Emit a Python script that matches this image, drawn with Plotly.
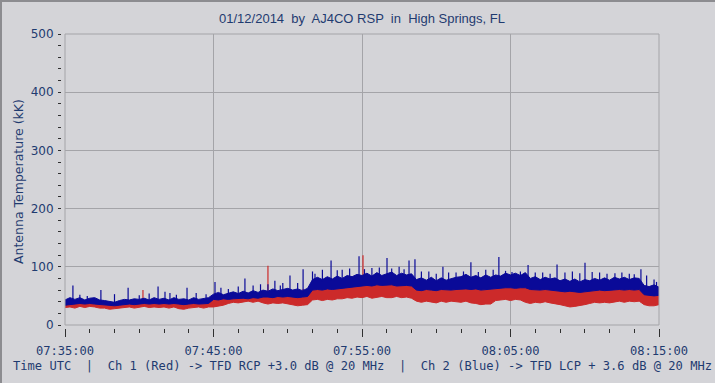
import numpy as np
import pandas as pd
import plotly.graph_objects as go

# ---------------- data ----------------
start = pd.Timestamp("2014-01-12 07:35:00")
sample_s = np.arange(121) * 20          # one reading every 20 s, 07:35:00 .. 08:15:00

blue_hi = [43, 47, 44, 47, 43, 46, 47, 43, 42, 40,
           39, 42, 44, 43, 45, 44, 46, 43, 47, 44,
           46, 43, 47, 44, 45, 43, 47, 44, 45, 47,
           53, 56, 52, 55, 57, 54, 58, 55, 59, 56,
           60, 58, 62, 59, 61, 63, 60, 62, 59, 63,
           78, 82, 78, 83, 79, 84, 80, 85, 83, 87,
           85, 89, 84, 90, 85, 88, 91, 85, 89, 86,
           88, 78, 81, 77, 82, 76, 81, 77, 80, 82,
           83, 87, 82, 85, 81, 86, 82, 86, 84, 89,
           86, 89, 85, 90, 80, 83, 78, 82, 79, 81,
           76, 79, 75, 79, 74, 78, 76, 80, 77, 81,
           77, 82, 79, 82, 78, 81, 80, 68, 66, 69,
           65]
blue_lo = [34, 35, 36, 37, 36, 37, 36, 35, 34, 33,
           33, 34, 35, 36, 35, 36, 37, 36, 37, 36,
           37, 36, 37, 36, 35, 36, 37, 36, 36, 37,
           44, 43, 45, 44, 45, 46, 46, 45, 47, 46,
           48, 48, 47, 49, 48, 49, 48, 47, 48, 49,
           60, 61, 60, 62, 61, 62, 63, 64, 65, 66,
           67, 68, 67, 69, 68, 68, 69, 67, 68, 68,
           67, 60, 59, 61, 60, 59, 61, 60, 60, 61,
           62, 62, 61, 62, 60, 61, 61, 62, 63, 64,
           64, 63, 64, 64, 61, 60, 60, 61, 60, 59,
           58, 57, 58, 57, 56, 57, 58, 58, 60, 59,
           60, 60, 61, 60, 61, 60, 61, 52, 51, 50,
           51]
red_hi = [37, 38, 39, 39, 38, 39, 38, 37, 36, 35,
          35, 36, 37, 38, 38, 39, 39, 38, 39, 38,
          39, 38, 39, 38, 37, 38, 39, 38, 38, 39,
          46, 46, 47, 47, 48, 49, 49, 48, 50, 49,
          51, 51, 50, 52, 51, 52, 51, 50, 51, 52,
          63, 64, 63, 64, 64, 65, 66, 67, 68, 69,
          70, 70, 69, 71, 70, 71, 71, 70, 70, 71,
          69, 62, 61, 63, 62, 61, 63, 62, 62, 63,
          64, 63, 63, 62, 61, 62, 62, 63, 64, 65,
          65, 64, 65, 64, 62, 61, 61, 62, 61, 60,
          59, 58, 59, 58, 57, 58, 59, 59, 61, 60,
          61, 61, 62, 61, 62, 61, 62, 53, 52, 52,
          53]
red_lo = [30, 31, 29, 32, 30, 32, 31, 29, 29, 27,
          28, 29, 30, 31, 29, 31, 32, 30, 31, 30,
          31, 29, 31, 28, 27, 29, 30, 31, 29, 31,
          31, 32, 34, 37, 39, 38, 40, 41, 39, 41,
          38, 36, 38, 37, 38, 36, 35, 33, 34, 35,
          43, 44, 42, 44, 43, 45, 45, 47, 46, 48,
          47, 49, 46, 48, 49, 47, 47, 49, 47, 48,
          46, 41, 39, 41, 40, 38, 41, 39, 41, 40,
          39, 41, 38, 37, 35, 36, 36, 42, 43, 44,
          42, 44, 43, 39, 37, 39, 38, 40, 38, 37,
          35, 33, 31, 32, 33, 35, 37, 39, 38, 39,
          38, 40, 41, 39, 41, 40, 41, 35, 33, 33,
          35]

blue_spike_s = [32, 145, 255, 376, 404, 424, 493, 606, 660, 727, 790, 848, 880,
                909, 962, 1010, 1075, 1120, 1188, 1240, 1301, 1350, 1390, 1414,
                1470, 1527, 1580, 1640, 1700, 1753, 1806, 1871, 1930, 1988, 2050,
                2101, 2160, 2222, 2280, 2327, 2380]
blue_spike_peak = [68, 60, 64, 66, 57, 55, 64, 74, 62, 80, 70, 76, 72,
                   85, 96, 88, 111, 95, 118, 98, 115, 100, 111, 113,
                   92, 100, 90, 108, 95, 117, 91, 103, 90, 104, 92,
                   107, 90, 89, 88, 96, 78]
blue_small_spike_s = [60, 90, 200, 300, 340, 450, 530, 570, 630, 700, 760, 820,
                      870, 940, 1000, 1040, 1100, 1150, 1210, 1270, 1320, 1370,
                      1440, 1500, 1550, 1610, 1670, 1730, 1780, 1840, 1900, 1960,
                      2020, 2080, 2130, 2190, 2250, 2300, 2350, 2390]
blue_small_spike_peak = [52, 50, 53, 51, 54, 52, 55, 53, 64, 66, 68, 70,
                         68, 72, 92, 95, 94, 97, 96, 99, 97, 96,
                         92, 88, 90, 92, 91, 95, 93, 92, 90, 88,
                         90, 89, 91, 88, 90, 87, 85, 74]
red_spike_s = [315, 820, 962, 1204, 1301, 1753, 1988, 2101]
red_spike_peak = [60, 102, 62, 120, 74, 66, 62, 60]

x_tick_text = ["07:35:00", "07:45:00", "07:55:00", "08:05:00", "08:15:00"]
y_tick_vals = [0, 100, 200, 300, 400, 500]

title_text = "01/12/2014  by  AJ4CO RSP  in  High Springs, FL"
footer_text = ("Time UTC  |  Ch 1 (Red) -> TFD RCP +3.0 dB @ 20 MHz  |  "
               "Ch 2 (Blue) -> TFD LCP + 3.6 dB @ 20 MHz")
y_title = "Antenna Temperature (kK)"

# ---------------- figure ----------------
BLUE = "#0A0A98"
RED = "#CC2A2A"
BG = "#D4D4D8"
GRID = "#A4A4A8"
TXT = "#1F3B70"

t = start + pd.to_timedelta(sample_s, unit="s")


def spikes(sec, peak, hi):
    base = np.interp(sec, sample_s, hi) - 3
    xs, ys = [], []
    for s, b, p in zip(sec, base, peak):
        ts = start + pd.Timedelta(seconds=int(s))
        xs += [ts, ts, None]
        ys += [b, p, None]
    return xs, ys


fig = go.Figure()
series = [
    (red_lo, red_hi, [(red_spike_s, red_spike_peak)], RED),
    (blue_lo, blue_hi, [(blue_spike_s, blue_spike_peak),
                        (blue_small_spike_s, blue_small_spike_peak)], BLUE),
]
for lo, hi, spike_sets, col in series:
    fig.add_trace(go.Scatter(x=t, y=lo, mode="lines", line=dict(color=col, width=1),
                             hoverinfo="skip", showlegend=False))
    fig.add_trace(go.Scatter(x=t, y=hi, mode="lines", line=dict(color=col, width=1),
                             fill="tonexty", fillcolor=col, showlegend=False))
    for ss, sp in spike_sets:
        sx, sy = spikes(ss, sp, hi)
        fig.add_trace(go.Scatter(x=sx, y=sy, mode="lines", line=dict(color=col, width=1.2),
                                 showlegend=False, hoverinfo="skip"))

W, H = 715, 383
L, R, T, B = 61, 56, 34, 55
pw, ph = W - L - R, H - T - B

x_tick_vals = [start + pd.Timedelta(minutes=10 * k) for k in range(len(x_tick_text))]

fig.update_layout(
    width=W, height=H,
    margin=dict(l=L, r=R, t=T, b=B, pad=0),
    paper_bgcolor=BG, plot_bgcolor=BG,
    showlegend=False,
    title=dict(text=title_text, x=362 / W, xref="container", xanchor="center",
               y=1 - 18 / H, yref="container", yanchor="middle",
               font=dict(family="Liberation Sans", size=13, color=TXT)),
    xaxis=dict(
        domain=[4 / pw, 1], anchor="free", position=0, automargin=False,
        range=[start, start + pd.Timedelta(minutes=40)],
        tickvals=x_tick_vals, ticktext=x_tick_text,
        ticks="outside", ticklen=8, tickwidth=1, tickcolor="#303030",
        ticklabelstandoff=3,
        tickfont=dict(family="DejaVu Sans Mono", size=12.1, color=TXT),
        showgrid=True, gridcolor=GRID, gridwidth=1,
        zeroline=False, showline=False,
        minor=dict(tick0=start, dtick=100000, ticks="outside", ticklen=4,
                   tickcolor="#303030", showgrid=False),
    ),
    yaxis=dict(
        domain=[3 / ph, 1], anchor="free", position=0, automargin=False,
        range=[0, 500], tickvals=y_tick_vals,
        ticks="outside", ticklen=2, tickcolor="#303030",
        ticklabelstandoff=3,
        tickfont=dict(family="DejaVu Sans", size=12, color=TXT),
        showgrid=True, gridcolor=GRID, gridwidth=1,
        zeroline=False, showline=False,
        minor=dict(dtick=20, ticks="outside", ticklen=3, tickcolor="#303030",
                   showgrid=False),
    ),
    shapes=[
        dict(type="rect", xref="x domain", yref="y domain", x0=0, x1=1, y0=0, y1=1,
             line=dict(color=GRID, width=1), layer="above"),
        dict(type="line", xref="paper", yref="paper",
             x0=-L / pw, x1=(W - L) / pw, y0=(ph + T - 1) / ph, y1=(ph + T - 1) / ph,
             line=dict(color="#8C8C90", width=2)),
        dict(type="line", xref="paper", yref="paper",
             x0=-(L - 1) / pw, x1=-(L - 1) / pw, y0=-B / ph, y1=(ph + T) / ph,
             line=dict(color="#8C8C90", width=2)),
    ],
    annotations=[
        dict(text=footer_text, xref="paper", yref="paper",
             x=(11 - L) / pw, y=(ph - (366 - T)) / ph, xanchor="left", yanchor="middle",
             showarrow=False, font=dict(family="DejaVu Sans Mono", size=12.1, color=TXT)),
        dict(text=y_title, xref="paper", yref="paper", textangle=-90,
             x=(18 - L) / pw, y=(ph - (182 - T)) / ph, xanchor="center", yanchor="middle",
             showarrow=False, font=dict(family="DejaVu Sans", size=12.5, color=TXT)),
    ],
)

fig.write_html("out.html",
               config={"displayModeBar": False},
               post_script="document.body.style.margin='0';"
                           "document.body.style.overflow='hidden';")
